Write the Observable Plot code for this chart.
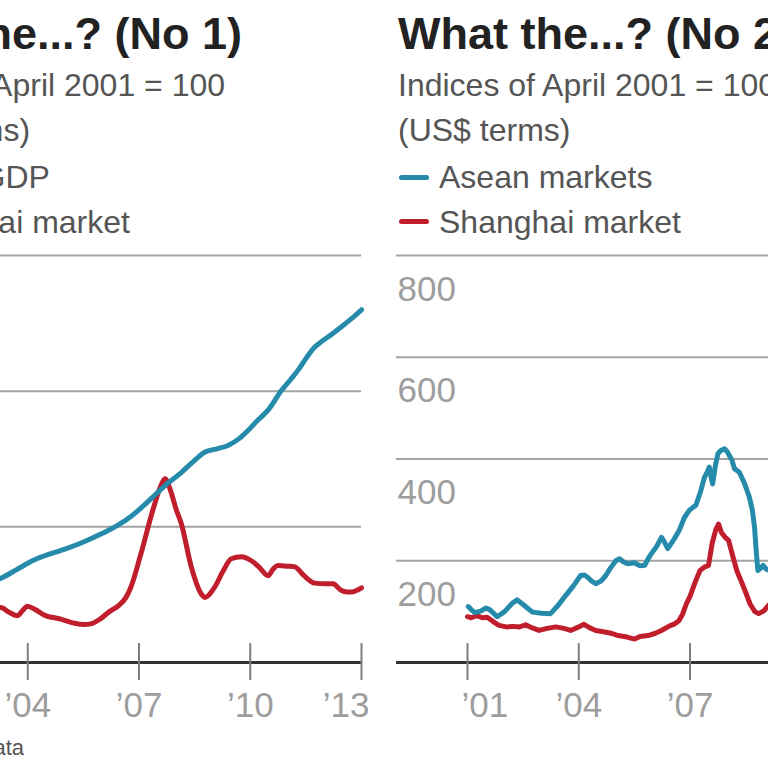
<!DOCTYPE html>
<html><head><meta charset="utf-8">
<script src="https://cdn.jsdelivr.net/npm/d3@7"></script>
<script src="https://cdn.jsdelivr.net/npm/@observablehq/plot@0.6"></script>
<style>
html,body{margin:0;padding:0;background:#fff;}
body{width:768px;height:768px;overflow:hidden;position:relative;font-family:"Liberation Sans",Arial,sans-serif;}
.panel{position:absolute;top:0;width:551px;height:768px;}
.title{position:absolute;left:2px;top:11px;font-weight:bold;font-size:45px;line-height:45px;color:#222;white-space:nowrap;}
.sub{position:absolute;font-size:32px;line-height:32px;color:#555;white-space:nowrap;}
.sw{position:absolute;left:3px;width:30px;height:5px;border-radius:2.5px;}
.chart{position:absolute;left:0;top:245px;}
.src{position:absolute;left:-221px;width:400px;top:737px;text-align:right;font-size:22px;line-height:22px;color:#555;white-space:nowrap;}
</style></head>
<body>
<script>
// ---- data ----
const titles = ["What the...? (No 1)", "What the...? (No 2)"];
const subtitleLine1 = "Indices of April 2001 = 100";
const subtitleLine2 = ["(Yuan terms)", "(US$ terms)"];
const legendLeft = ["China GDP", "Shanghai market"];
const legendRight = ["Asean markets", "Shanghai market"];
const sourceText = "Source: CEIC data";
const tickYears = [2001, 2004, 2007, 2010, 2013];
const tickLabels = ["’01", "’04", "’07", "’10", "’13"];
const leftGrid = [200, 400, 600];
const rightGrid = [200, 400, 600, 800];
const blue = "#268bab";
const red = "#c01e2d";

// left panel: GDP and Shanghai market
const gdpLeft = [[2001.0,100],[2001.5,104],[2002.0,108],[2002.5,113],[2003.0,119],[2003.27,124],[2003.7,137],[2004.17,151],[2004.6,160],[2005.0,167],[2005.52,178],[2006.0,190],[2006.42,202],[2006.8,216],[2007.14,232],[2007.45,248],[2007.77,264],[2008.14,280],[2008.5,298],[2008.77,310],[2009.1,315],[2009.4,320],[2009.7,330],[2009.94,342],[2010.2,357],[2010.48,372],[2010.84,401],[2011.1,418],[2011.29,431],[2011.5,448],[2011.74,465],[2011.92,473],[2012.2,484],[2012.46,495],[2012.73,507],[2013.0,520]];
const shanghaiLeft = [[2001.0,100],[2001.3,103],[2001.6,96],[2002.0,88],[2002.4,86],[2002.8,80],[2003.0,78],[2003.27,81],[2003.5,74],[2003.72,69],[2003.85,76],[2003.99,83],[2004.2,78],[2004.44,70],[2004.89,64],[2005.25,58],[2005.5,56],[2005.7,57],[2005.95,64],[2006.2,75],[2006.45,84],[2006.65,96],[2006.78,111],[2007.05,160],[2007.37,224],[2007.6,262],[2007.7,271],[2007.86,252],[2008.0,226],[2008.14,205],[2008.41,141],[2008.68,101],[2008.77,96],[2009.04,111],[2009.25,133],[2009.49,153],[2009.76,156],[2010.03,150],[2010.25,140],[2010.48,128],[2010.62,138],[2010.75,143],[2011.0,142],[2011.2,141],[2011.45,128],[2011.74,117],[2012.0,116],[2012.23,116],[2012.46,106],[2012.6,104],[2012.73,104],[2013.0,110]];

// right panel: Asean markets and Shanghai market (US$)
const aseanRight = [[2001.02,110],[2001.1,104],[2001.2,98],[2001.35,101],[2001.5,107],[2001.6,104],[2001.8,90],[2002.0,100],[2002.2,116],[2002.34,123],[2002.5,114],[2002.75,99],[2003.0,97],[2003.24,96],[2003.45,113],[2003.65,132],[2003.85,150],[2004.05,171],[2004.15,172],[2004.23,168],[2004.35,160],[2004.46,155],[2004.6,160],[2004.73,171],[2004.85,185],[2005.0,200],[2005.1,204],[2005.2,198],[2005.32,194],[2005.5,196],[2005.65,190],[2005.78,191],[2005.88,205],[2005.96,214],[2006.1,228],[2006.23,246],[2006.3,238],[2006.4,224],[2006.55,240],[2006.71,260],[2006.85,285],[2006.98,299],[2007.08,305],[2007.16,309],[2007.28,335],[2007.39,364],[2007.45,372],[2007.52,384],[2007.58,360],[2007.61,351],[2007.68,385],[2007.75,410],[2007.82,416],[2007.93,420],[2008.0,415],[2008.06,407],[2008.13,398],[2008.2,381],[2008.33,374],[2008.47,352],[2008.6,325],[2008.68,300],[2008.74,266],[2008.79,215],[2008.83,181],[2008.9,185],[2008.97,191],[2009.05,184],[2009.14,181],[2009.3,195]];
const shanghaiRight = [[2001.0,90],[2001.1,88],[2001.25,92],[2001.4,88],[2001.53,89],[2001.7,80],[2001.85,73],[2002.05,70],[2002.25,71],[2002.4,70],[2002.57,74],[2002.75,68],[2002.93,63],[2003.15,67],[2003.38,70],[2003.6,67],[2003.78,63],[2004.0,70],[2004.14,75],[2004.3,68],[2004.46,63],[2004.7,60],[2004.9,57],[2005.06,53],[2005.3,50],[2005.51,46],[2005.65,51],[2005.87,53],[2006.05,57],[2006.23,63],[2006.45,72],[2006.59,76],[2006.7,82],[2006.8,95],[2006.9,115],[2007.0,130],[2007.15,160],[2007.27,181],[2007.4,188],[2007.5,191],[2007.6,235],[2007.7,262],[2007.77,272],[2007.85,255],[2007.95,246],[2008.04,240],[2008.15,210],[2008.26,181],[2008.38,160],[2008.49,140],[2008.62,115],[2008.75,100],[2008.85,96],[2009.0,102],[2009.11,112],[2009.3,125]];

// ---- build ----
const toRows = arr => arr.map(([year, value]) => ({year, value}));
const ticks = tickYears.map((year, i) => ({year, label: tickLabels[i]}));

function chart({grid, top, series}) {
  const font = "Liberation Sans";
  return Plot.plot({
    width: 530, height: 480,
    marginTop: 10, marginBottom: 63, marginLeft: 0, marginRight: 14,
    x: {domain: [2001, 2013], range: [71, 516], axis: null},
    y: {domain: [0, top], range: [417, 10], axis: null},
    style: {maxWidth: "none", overflow: "visible", background: "transparent", fontFamily: font},
    marks: [
      Plot.ruleY(grid, {stroke: "#a3a3a3", strokeWidth: 2}),
      Plot.ruleY([0], {stroke: "#333", strokeWidth: 3}),
      Plot.ruleX(tickYears, {x: d => d, y1: () => 0, y2: () => 0, insetTop: -19, insetBottom: -18, stroke: "#7d7d7d", strokeWidth: 2}),
      Plot.text(grid, {y: d => d, text: d => String(d), frameAnchor: "left", textAnchor: "start", dx: 1, dy: 34, fontSize: 35, fill: "#9d9d9d", fontFamily: font}),
      Plot.text(ticks.slice(0, 1), {x: "year", y: () => 0, text: "label", textAnchor: "start", dx: -6, dy: 43, fontSize: 35, fill: "#9d9d9d", fontFamily: font}),
      Plot.text(ticks.slice(1, -1), {x: "year", y: () => 0, text: "label", textAnchor: "middle", dy: 43, fontSize: 35, fill: "#9d9d9d", fontFamily: font}),
      Plot.text(ticks.slice(-1), {x: "year", y: () => 0, text: "label", textAnchor: "end", dx: 8, dy: 43, fontSize: 35, fill: "#9d9d9d", fontFamily: font}),
      ...series.map(s => Plot.line(toRows(s.data), {x: "year", y: "value", stroke: s.color, strokeWidth: 5, curve: s.curve, strokeLinejoin: "round", strokeLinecap: "round"}))
    ]
  });
}

function makePanel(left, idx, legend, grid, top, series, withSource) {
  const p = document.createElement("div");
  p.className = "panel";
  p.style.left = left + "px";
  p.innerHTML = `
    <div class="title">${titles[idx]}</div>
    <div class="sub" style="left:2px;top:69px">${subtitleLine1}</div>
    <div class="sub" style="left:2px;top:114px">${subtitleLine2[idx]}</div>
    <div class="sw" style="top:175px;background:${blue}"></div>
    <div class="sub" style="left:43px;top:161px">${legend[0]}</div>
    <div class="sw" style="top:219px;background:${red}"></div>
    <div class="sub" style="left:43px;top:206px">${legend[1]}</div>
    ${withSource ? `<div class="src">${sourceText}</div>` : ""}`;
  const c = document.createElement("div");
  c.className = "chart";
  c.appendChild(chart({grid, top, series}));
  p.appendChild(c);
  document.body.appendChild(p);
}

makePanel(-155, 0, legendLeft, leftGrid, 600, [
  {data: shanghaiLeft, color: red, curve: "monotone-x"},
  {data: gdpLeft, color: blue, curve: "monotone-x"}
], true);
makePanel(396, 1, legendRight, rightGrid, 800, [
  {data: shanghaiRight, color: red, curve: "linear"},
  {data: aseanRight, color: blue, curve: "linear"}
], false);
</script>
</body></html>
